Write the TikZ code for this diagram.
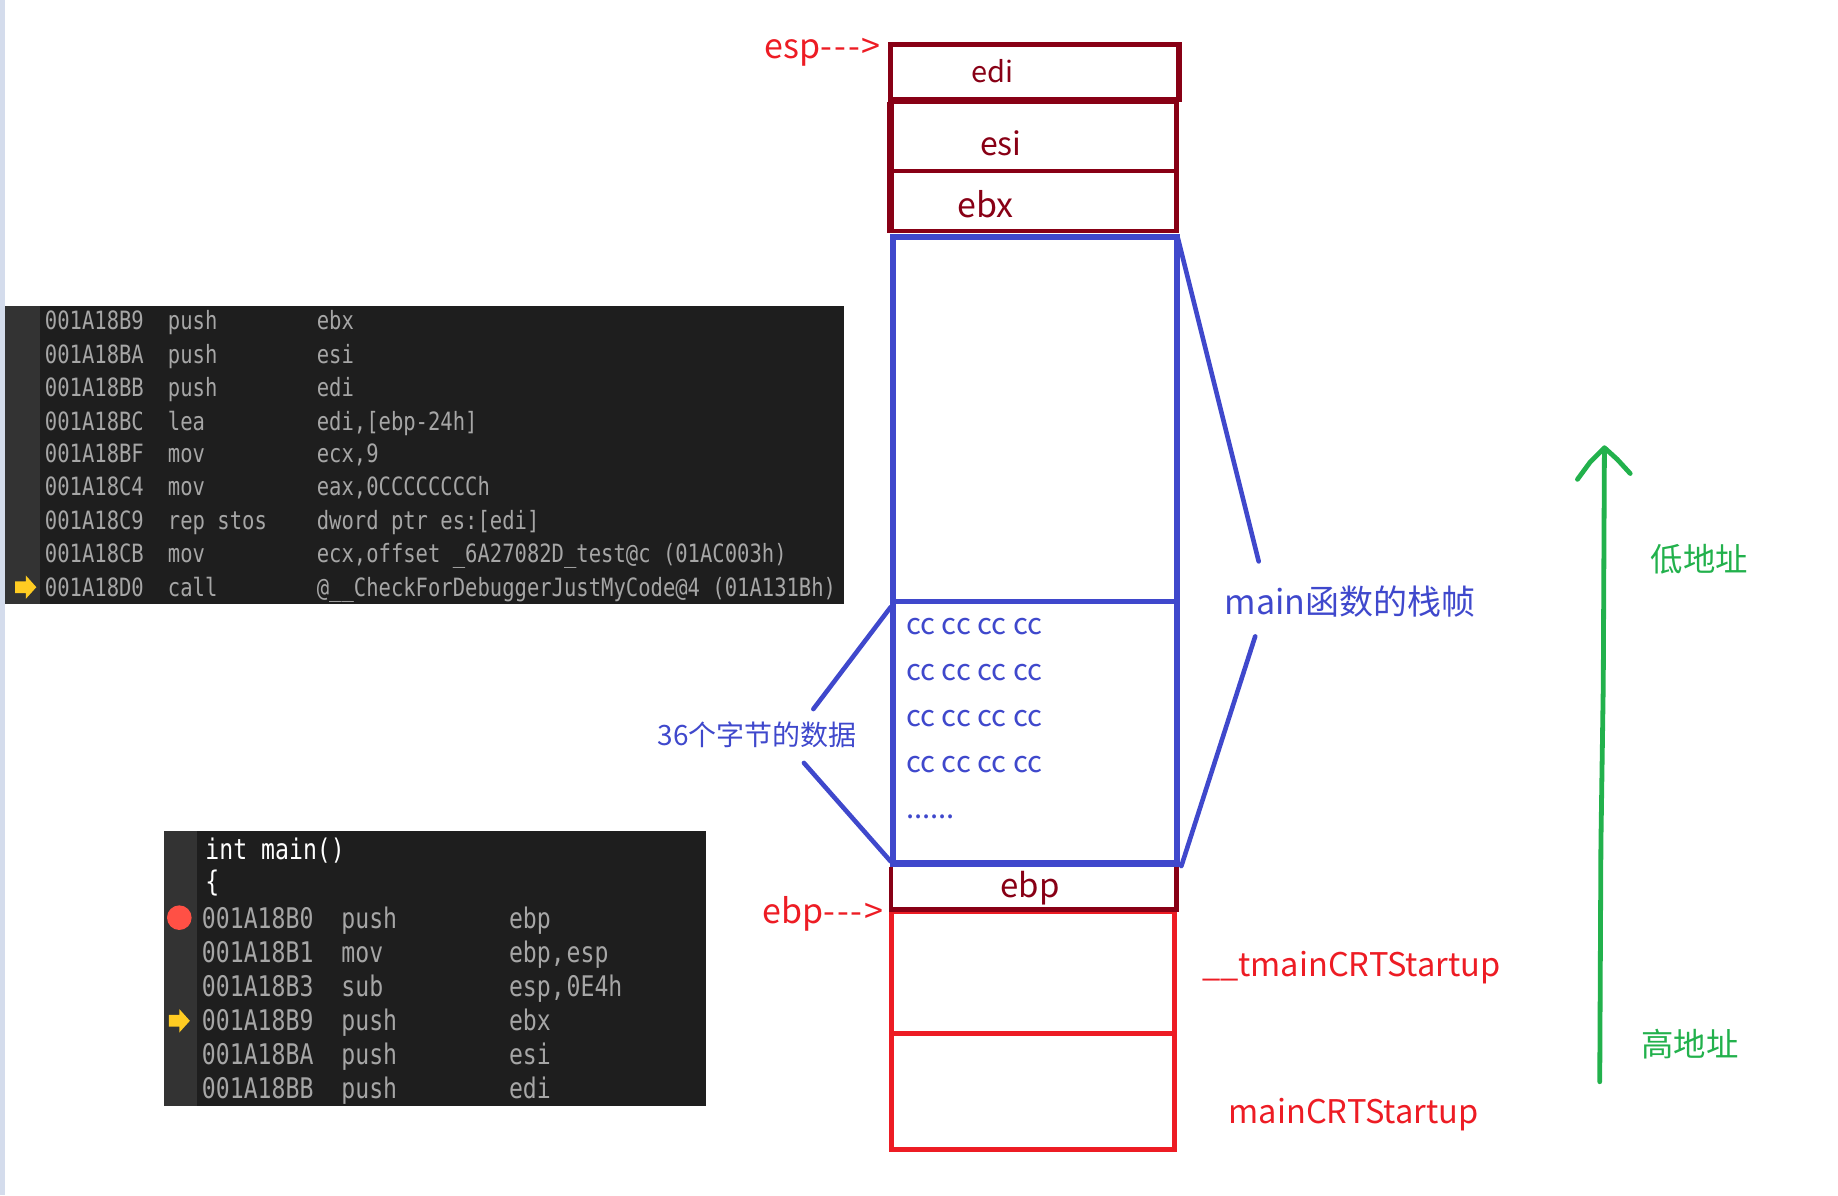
\documentclass[tikz,border=0pt]{standalone}
\usepackage{fontspec}
\setmainfont{Noto Sans CJK SC}
\newfontfamily\codefont[FakeStretch=0.815]{DejaVu Sans Mono}
\definecolor{panelbg}{HTML}{1E1E1E}
\definecolor{guttergray}{HTML}{333333}
\definecolor{codegray}{HTML}{A6A6A6}
\definecolor{stripblue}{HTML}{D4DCEC}
\definecolor{framered}{HTML}{880015}
\definecolor{stackred}{HTML}{ED1C24}
\definecolor{stackblue}{HTML}{3F48CC}
\definecolor{addrgreen}{HTML}{22B14C}
\definecolor{arrowyellow}{HTML}{FFCC22}
\definecolor{breakred}{HTML}{FF5045}
\tikzset{
  codesmall/.style={anchor=base west,inner sep=0pt,text=codegray,font=\codefont\fontsize{12.6}{14}\selectfont},
  codelarge/.style={anchor=base west,inner sep=0pt,text=codegray,font=\codefont\fontsize{14.2}{16}\selectfont},
  framebox/.style={draw=framered,line width=2.6pt},
  bluebox/.style={draw=stackblue,line width=2.9pt},
  redbox/.style={draw=stackred,line width=2.6pt},
  blueline/.style={draw=stackblue,line width=2.3pt,line cap=round},
  greenline/.style={draw=addrgreen,line width=2.4pt,line cap=round,line join=round},
  framelabel/.style={inner sep=0pt,text=framered},
  redlabel/.style={inner sep=0pt,text=stackred,font=\fontsize{16.3}{20}\selectfont},
  pointerlabel/.style={anchor=west,inner sep=0pt,text=stackred,font=\fontsize{17}{20}\selectfont},
  bluelabel/.style={inner sep=0pt,text=stackblue},
  greenlabel/.style={inner sep=0pt,text=addrgreen,font=\fontsize{16.2}{20}\selectfont},
  ccrow/.style={anchor=west,inner sep=0pt,text=stackblue,font=\fontsize{14.6}{18}\selectfont}
}
\begin{document}
\begin{tikzpicture}[x=0.586pt,y=-0.586pt]
\useasboundingbox (0,0) rectangle (1568.3,1020);
\fill[stripblue] (0,0) rectangle (4,1020);
% upper code window
\fill[panelbg] (4,261) rectangle (720,515);
\fill[guttergray] (4,261) rectangle (34,515);
\foreach \ry/\addr/\mn/\arg in {%
  281/001A18B9/push/ebx,
  310/001A18BA/push/esi,
  338/001A18BB/push/edi,
  367/001A18BC/lea/{edi,[ebp-24h]},
  395/001A18BF/mov/{ecx,9},
  423/001A18C4/mov/{eax,0CCCCCCCCh},
  452/001A18C9/rep stos/{dword ptr es:[edi]},
  480/001A18CB/mov/{ecx,offset \_6A27082D\_test@c (01AC003h)},
  509/001A18D0/call/{@\_\_CheckForDebuggerJustMyCode@4 (01A131Bh)}}{%
  \node[codesmall] (upaddr\ry) at (38,\ry) {\addr};
  \node[codesmall] (upmn\ry) at (143,\ry) {\mn};
  \node[codesmall] (uparg\ry) at (270,\ry) {\arg};
}
% lower code window
\fill[panelbg] (140,709) rectangle (602,944);
\fill[guttergray] (140,709) rectangle (168,944);
\node[codelarge,text=white] (mainline) at (175,733) {int main()};
\node[codelarge,text=white] (bracerow) at (175,761) {\{};
\foreach \ry/\addr/\mn/\arg in {%
  792/001A18B0/push/ebp,
  821/001A18B1/mov/{ebp,\hspace{-6pt} esp},
  850/001A18B3/sub/{esp,\hspace{-6pt} 0E4h},
  879/001A18B9/push/ebx,
  908/001A18BA/push/esi,
  937/001A18BB/push/edi}{%
  \node[codelarge] (lowaddr\ry) at (172,\ry) {\addr};
  \node[codelarge] (lowmn\ry) at (291,\ry) {\mn};
  \node[codelarge] (lowarg\ry) at (434,\ry) {\arg};
}
\fill[breakred] (153,783) circle (10.5);
\foreach \ax/\ay in {22/501,153/871}{%
  \fill[arrowyellow] (\ax-9,\ay-5) -- (\ax,\ay-5) -- (\ax,\ay-10) -- (\ax+9,\ay)
    -- (\ax,\ay+10) -- (\ax,\ay+5) -- (\ax-9,\ay+5) -- cycle;
}
% stack
\draw[redbox] (761,778) rectangle (1002,882);
\draw[redbox] (761,882) rectangle (1002,981);
\draw[framebox,line width=2.2pt] (760,740) -- (760,776) -- (1004,776) -- (1004,740);
\draw[framebox] (760,38) rectangle (1006,85);
\draw[framebox,line width=2.2pt] (760,87) rectangle (1004,146);
\draw[framebox,line width=2.2pt] (759,146) rectangle (1004,197);
\draw[framebox,line width=3.6pt] (760,86) -- (1006,86);
\draw[framebox,line width=3.4pt] (760,87) -- (760,197);
\draw[bluebox] (762,202) rectangle (1004,737);
\draw[draw=stackblue,line width=2.3pt] (762,513) -- (1004,513);
\draw[draw=stackblue,line width=3.6pt] (762,737) -- (1004,737);
\node[framelabel,font=\fontsize{14.5}{18}\selectfont] (edilabel) at (847,61) {edi};
\node[framelabel,font=\fontsize{16}{18}\selectfont] (esilabel) at (854,122) {esi};
\node[framelabel,font=\fontsize{17}{20}\selectfont] (ebxlabel) at (841,174) {ebx};
\node[framelabel,font=\fontsize{16.5}{20}\selectfont] (ebplabel) at (879,758) {ebp};
\foreach \ry in {535,574,613,652}{%
  \node[ccrow] (ccrow\ry) at (773,\ry) {cc cc cc cc};
}
\node[ccrow,anchor=base west] (ccdots) at (773,698) {......};
% pointers
\node[pointerlabel] (esplabel) at (652,45) {esp{-}\kern1pt{-}\kern1pt{-}\kern1pt>};
\node[pointerlabel] (ebppointer) at (650,780) {ebp{-}\kern1pt{-}\kern1pt{-}\kern1pt>};
% labels and their lines
\node[bluelabel,font=\fontsize{17}{20}\selectfont] (mainframe) at (1152,513) {main函数的栈帧};
\node[bluelabel,font=\fontsize{14}{18}\selectfont] (bytedata) at (646,627) {36个字节的数据};
\coordinate (frametop) at (1005,203);
\coordinate (framebot) at (1008,739);
\coordinate (datatop) at (760,518);
\coordinate (databot) at (760,735);
\coordinate (lineone) at (1074,479);
\coordinate (linetwo) at (1071,543);
\coordinate (linethree) at (694,605);
\coordinate (linefour) at (686,651);
\draw[blueline] (frametop) -- (lineone);
\draw[blueline] (framebot) -- (linetwo);
\draw[blueline] (datatop) -- (linethree);
\draw[blueline] (databot) -- (linefour);
\node[redlabel] (tmainlabel) at (1153,826) {\_\_tmainCRTStartup};
\node[redlabel] (mainlabel) at (1155,951) {mainCRTStartup};
% address direction
\draw[greenline] (1365,923) -- (1366,720) -- (1368,585) -- (1369,383);
\draw[greenline] (1346,409) -- (1357,394) -- (1369,382) -- (1380,392) -- (1391,404);
\node[greenlabel] (lowaddrlabel) at (1450,477) {低地址};
\node[greenlabel] (highaddrlabel) at (1442,891) {高地址};
\end{tikzpicture}
\end{document}
